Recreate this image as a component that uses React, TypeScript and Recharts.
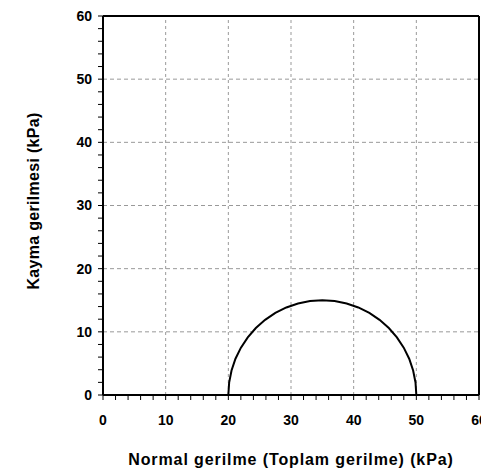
import { LineChart, Line, XAxis, YAxis, ReferenceLine, Label } from "recharts";

// Mohr circle points (sigma, tau) in kPa
const circleX = [20, 20.13, 20.51, 21.14, 22.01, 23.1, 24.39, 25.87, 27.5, 29.26, 31.12, 33.04, 35, 36.96, 38.88, 40.74, 42.5, 44.13, 45.61, 46.9, 47.99, 48.86, 49.49, 49.87, 50];
const circleY = [0, 1.96, 3.88, 5.74, 7.5, 9.13, 10.61, 11.9, 12.99, 13.86, 14.49, 14.87, 15, 14.87, 14.49, 13.86, 12.99, 11.9, 10.61, 9.13, 7.5, 5.74, 3.88, 1.96, 0];

const axisTicks = [0, 2, 4, 6, 8, 10, 12, 14, 16, 18, 20, 22, 24, 26, 28, 30, 32, 34, 36, 38, 40, 42, 44, 46, 48, 50, 52, 54, 56, 58, 60];
const gridValues = [10, 20, 30, 40, 50];

const xTitle = "Normal gerilme (Toplam gerilme) (kPa)";
const yTitle = "Kayma gerilmesi (kPa)";

const data = circleX.map((x, i) => ({ x, y: circleY[i] }));

const font = "'Liberation Sans', Arial, sans-serif";
const tickFont = { fontSize: 14, fontWeight: 700, fill: "#000", fontFamily: font };
const showMajor = (v: number) => (v % 10 === 0 ? String(v) : "");

const YTitle = () => (
  <text
    x={33}
    y={201}
    transform="rotate(-90 33 201)"
    textAnchor="middle"
    dominantBaseline="central"
    style={{ fontSize: 16, fontWeight: 700, fill: "#000", fontFamily: font, letterSpacing: 0.3 }}
  >
    {yTitle}
  </text>
);

export default function App() {
  return (
    <div style={{ position: "absolute", left: 0, top: 0, background: "#fff" }}>
      <LineChart width={481} height={476} data={data} margin={{ top: 16, right: 2, left: 43, bottom: 0 }}>
        <XAxis
          type="number"
          dataKey="x"
          domain={[0, 60]}
          ticks={axisTicks}
          interval={0}
          tickFormatter={showMajor}
          tick={tickFont}
          tickSize={5}
          tickMargin={15}
          tickLine={{ stroke: "#000" }}
          axisLine={{ stroke: "#000", strokeWidth: 2 }}
          height={81}
        >
          <Label value={xTitle} position="insideBottom" offset={11} style={{ fontSize: 16, fontWeight: 700, fill: "#000", fontFamily: font, letterSpacing: 0.9 }} />
        </XAxis>
        <YAxis
          type="number"
          domain={[0, 60]}
          ticks={axisTicks}
          interval={0}
          tickFormatter={showMajor}
          tick={tickFont}
          tickSize={5}
          tickMargin={6}
          tickLine={{ stroke: "#000" }}
          axisLine={{ stroke: "#000", strokeWidth: 2 }}
          width={60}
        >
          <Label content={<YTitle />} />
        </YAxis>
        {gridValues.map((v) => (
          <ReferenceLine key={"vx" + v} x={v} stroke="#999" strokeDasharray="3 3" />
        ))}
        {gridValues.map((v) => (
          <ReferenceLine key={"hy" + v} y={v} stroke="#999" strokeDasharray="4 3" />
        ))}
        <ReferenceLine y={60} stroke="#000" strokeWidth={2} />
        <ReferenceLine x={60} stroke="#000" strokeWidth={2} />
        <Line type="linear" dataKey="y" stroke="#000" strokeWidth={2} dot={false} isAnimationActive={false} />
      </LineChart>
    </div>
  );
}
